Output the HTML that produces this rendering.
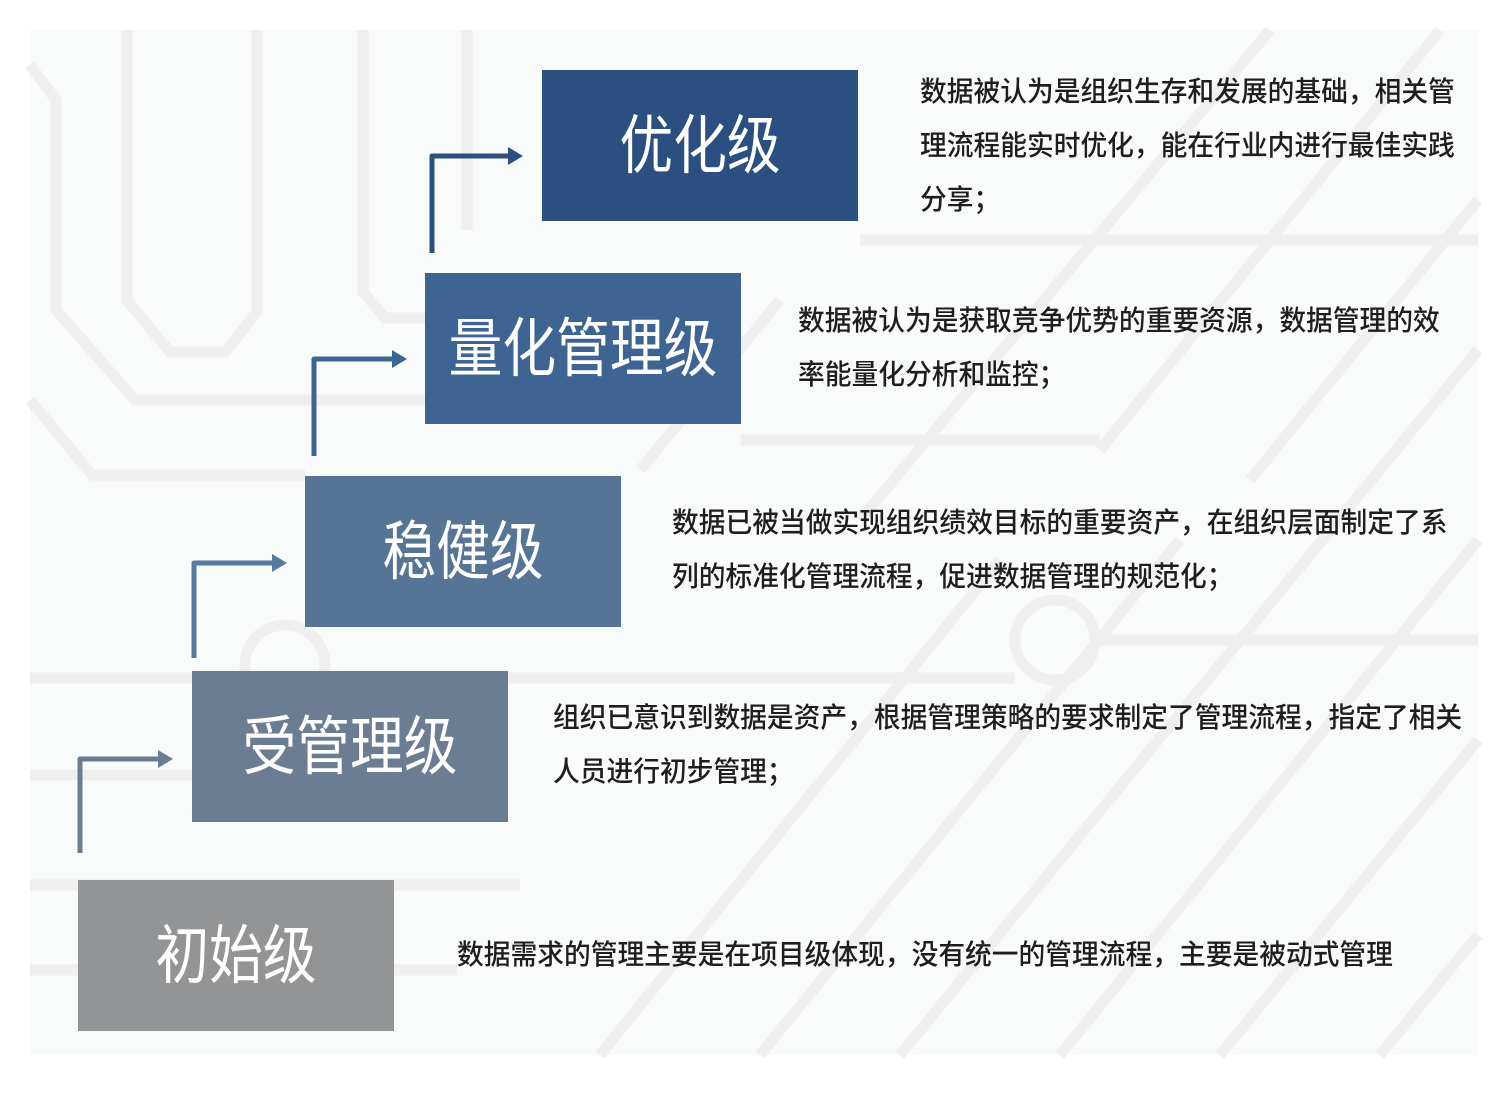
<!DOCTYPE html>
<html><head><meta charset="utf-8"><style>
html,body{margin:0;padding:0;background:#fff;}
body{width:1512px;height:1103px;position:relative;overflow:hidden;font-family:"Liberation Sans","Noto Sans CJK SC",sans-serif;}
.box{position:absolute;width:316px;height:151px;color:#fff;display:flex;align-items:center;justify-content:center;}
.box span{font-size:64px;white-space:nowrap;display:inline-block;transform:scaleX(0.84);line-height:1;}
.t{position:absolute;font-size:28px;line-height:54px;color:#1e1e1e;white-space:nowrap;font-weight:500;transform:scaleX(0.955);transform-origin:0 0;}
</style></head><body>
<svg width="1512" height="1103" style="position:absolute;left:0;top:0">
<rect x="30" y="30" width="1448" height="1025" fill="#f9fafa"/>
<g fill="none" stroke="#efefef" stroke-width="11">
<polyline points="30,65 56,100 56,310 135,400 488,400 525,360"/>
<polyline points="127,30 127,300 170,352 225,352 257,312 257,30"/>
<polyline points="363,30 363,292 385,318 425,318"/>
<polyline points="467,30 467,230"/>
<polyline points="30,400 92,475 305,475"/>
<circle cx="285" cy="665" r="40"/>
<polyline points="30,678 192,678"/>
<polyline points="30,775 192,775"/>
<polyline points="30,885 78,885 394,885 520,885"/>
<polyline points="30,970 78,970"/>
<polyline points="394,970 457,970"/>
<circle cx="1055" cy="640" r="40"/>
<line x1="600" y1="1055" x2="1000" y2="560"/>
<line x1="760" y1="1055" x2="1180" y2="540"/>
<line x1="900" y1="1055" x2="1478" y2="350"/>
<line x1="1060" y1="1055" x2="1478" y2="540"/>
<line x1="1220" y1="1055" x2="1478" y2="740"/>
<line x1="1380" y1="1055" x2="1478" y2="935"/>
<line x1="860" y1="520" x2="1270" y2="30"/>
<line x1="1100" y1="450" x2="1440" y2="30"/>
<line x1="1250" y1="480" x2="1478" y2="200"/>
<line x1="640" y1="470" x2="780" y2="300"/>
<polyline points="508,678 1015,678"/>
<polyline points="1095,640 1478,640"/>
<polyline points="860,240 1478,240"/>
<polyline points="741,440 1100,440"/>
</g>
<g fill="none" stroke-width="5" stroke-linejoin="round">
<polyline points="80,853 80,759 160,759" stroke="#6a7d93"/>
<polyline points="194,658 194,563 274,563" stroke="#557aa0"/>
<polyline points="314,456 314,359 394,359" stroke="#3d6594"/>
<polyline points="432,253 432,156 510,156" stroke="#2b4f80"/>
</g>
<polygon points="158,750 173,759 158,768" fill="#6a7d93"/>
<polygon points="272,554 287,563 272,572" fill="#557aa0"/>
<polygon points="392,350 407,359 392,368" fill="#3d6594"/>
<polygon points="508,147 523,156 508,165" fill="#2b4f80"/>
</svg>
<div class="box" style="left:542px;top:70px;background:#2b4f80"><span>优化级</span></div>
<div class="box" style="left:425px;top:273px;background:#3d6492"><span>量化管理级</span></div>
<div class="box" style="left:305px;top:476px;background:#557496"><span>稳健级</span></div>
<div class="box" style="left:192px;top:671px;background:#6a7d93"><span>受管理级</span></div>
<div class="box" style="left:78px;top:880px;background:#939495"><span>初始级</span></div>
<div class="t" style="left:920px;top:65px">数据被认为是组织生存和发展的基础，相关管<br>理流程能实时优化，能在行业内进行最佳实践<br>分享；</div>
<div class="t" style="left:798px;top:294px">数据被认为是获取竞争优势的重要资源，数据管理的效<br>率能量化分析和监控；</div>
<div class="t" style="left:672px;top:496px">数据已被当做实现组织绩效目标的重要资产，在组织层面制定了系<br>列的标准化管理流程，促进数据管理的规范化；</div>
<div class="t" style="left:553px;top:691px">组织已意识到数据是资产，根据管理策略的要求制定了管理流程，指定了相关<br>人员进行初步管理；</div>
<div class="t" style="left:457px;top:928px">数据需求的管理主要是在项目级体现，没有统一的管理流程，主要是被动式管理</div>
</body></html>
